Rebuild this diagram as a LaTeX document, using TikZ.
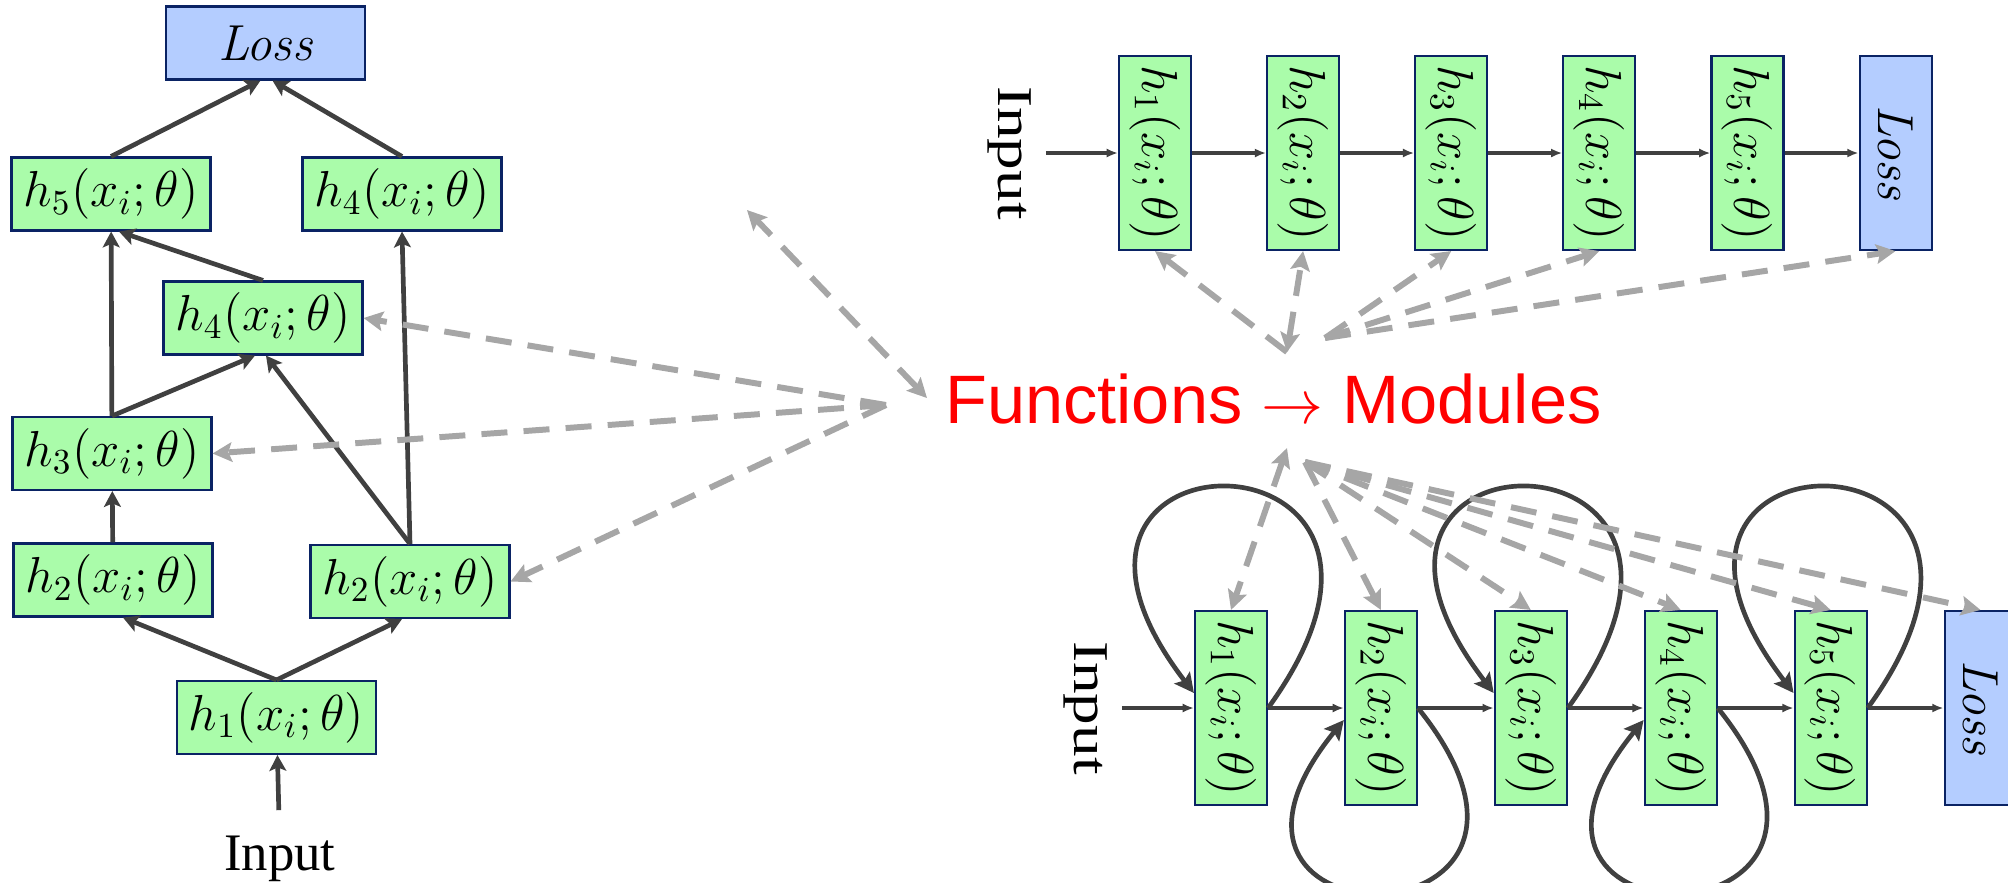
\documentclass[tikz,border=0pt]{standalone}
\usepackage{fontspec}
\usepackage{graphicx}
\usetikzlibrary{arrows.meta, positioning}
\newfontfamily\inputfont{Liberation Serif}
\newfontfamily\redfont{Liberation Sans}
\definecolor{boxgreen}{RGB}{170,252,170}
\definecolor{boxblue}{RGB}{180,205,255}
\definecolor{boxline}{RGB}{10,35,100}
\definecolor{arrgray}{RGB}{64,64,64}
\definecolor{dashgray}{RGB}{166,166,166}
\newcommand{\vlab}[1]{\rotatebox{-90}{#1}}

\begin{document}
\begin{tikzpicture}[
    hbox/.style={rectangle, draw=boxline, fill=boxgreen, line width=0.6pt, minimum width=1.99cm, minimum height=0.73cm, inner sep=1pt, font=\Large},
    vbox/.style={rectangle, draw=boxline, fill=boxgreen, line width=0.6pt, minimum width=0.72cm, minimum height=1.94cm, inner sep=1pt, font=\Large},
    lossbox/.style={fill=boxblue},
    intext/.style={font=\inputfont\fontsize{15}{18}\selectfont, inner sep=4pt},
    redlbl/.style={font=\redfont\fontsize{19.5}{22}\selectfont, red},
    arr/.style={-{Stealth[length=4.5pt, width=4.8pt, inset=1pt]}, line width=1.33pt, arrgray},
    rarr/.style={-{Latex[length=3.2pt, width=2.6pt]}, line width=0.95pt, arrgray},
    larr/.style={-{Stealth[length=5.5pt, width=5.5pt, inset=1pt]}, line width=1.33pt, arrgray},
    darr/.style={-{Stealth[length=5.5pt, width=5.5pt, inset=1pt]}, line width=1.7pt, dashgray, dash pattern=on 7.4pt off 4.6pt},
    ddarr/.style={darr, {Stealth[length=5.5pt, width=5.5pt, inset=1pt]}-{Stealth[length=5.5pt, width=5.5pt, inset=1pt]}}
]
\clip (0,0) rectangle (20.08,-8.82);

% graph of functions
\node[hbox, lossbox] (lossL) at (2.655,-0.43) {\textit{Loss}};
\node[hbox] (h5L) at (1.11,-1.94) {$h_5(x_i;\theta)$};
\node[hbox] (h4La) at (4.02,-1.94) {$h_4(x_i;\theta)$};
\node[hbox] (h4Lb) at (2.63,-3.18) {$h_4(x_i;\theta)$};
\node[hbox] (h3L) at (1.12,-4.535) {$h_3(x_i;\theta)$};
\node[hbox] (h2La) at (1.13,-5.80) {$h_2(x_i;\theta)$};
\node[hbox] (h2Lb) at (4.10,-5.815) {$h_2(x_i;\theta)$};
\node[hbox] (h1L) at (2.765,-7.175) {$h_1(x_i;\theta)$};
\node[intext, inner sep=7pt, anchor=base] (inL) at (2.80,-8.70) {Input};

\draw[arr] (inL) -- (h1L);
\draw[arr] (h1L.north) -- ([xshift=0.1cm]h2La.south);
\draw[arr] (h1L.north) -- ([xshift=-0.08cm]h2Lb.south);
\draw[arr] (h2La) -- (h3L);
\draw[arr] (h3L.north) -- ([xshift=-0.08cm]h4Lb.south);
\draw[arr] (h3L) -- (h5L);
\draw[arr] (h2Lb.north) -- ([xshift=0.03cm]h4Lb.south);
\draw[arr] (h2Lb.north) -- (h4La.south);
\draw[arr] (h4Lb.north) -- ([xshift=0.08cm]h5L.south);
\draw[arr] (h5L.north) -- ([xshift=-0.05cm]lossL.south);
\draw[arr] (h4La.north) -- ([xshift=0.07cm]lossL.south);

% chain of modules
\node[vbox] (h1T) at (11.55,-1.53) {\vlab{$h_1(x_i;\theta)$}};
\node[vbox, right=0.74cm of h1T] (h2T) {\vlab{$h_2(x_i;\theta)$}};
\node[vbox, right=0.74cm of h2T] (h3T) {\vlab{$h_3(x_i;\theta)$}};
\node[vbox, right=0.74cm of h3T] (h4T) {\vlab{$h_4(x_i;\theta)$}};
\node[vbox, right=0.74cm of h4T] (h5T) {\vlab{$h_5(x_i;\theta)$}};
\node[vbox, lossbox, right=0.74cm of h5T] (lossT) {\vlab{\textit{Loss}}};
\node[intext, left=0.72cm of h1T] (inT) {\vlab{\scalebox{1.2}[0.95]{Input}}};

\draw[rarr] (inT) -- (h1T);
\draw[rarr] (h1T) -- (h2T);
\draw[rarr] (h2T) -- (h3T);
\draw[rarr] (h3T) -- (h4T);
\draw[rarr] (h4T) -- (h5T);
\draw[rarr] (h5T) -- (lossT);

% modules with loops
\node[vbox] (h1B) at (12.31,-7.08) {\vlab{$h_1(x_i;\theta)$}};
\node[vbox, right=0.758cm of h1B] (h2B) {\vlab{$h_2(x_i;\theta)$}};
\node[vbox, right=0.758cm of h2B] (h3B) {\vlab{$h_3(x_i;\theta)$}};
\node[vbox, right=0.758cm of h3B] (h4B) {\vlab{$h_4(x_i;\theta)$}};
\node[vbox, right=0.758cm of h4B] (h5B) {\vlab{$h_5(x_i;\theta)$}};
\node[vbox, lossbox, right=0.758cm of h5B] (lossB) {\vlab{\textit{Loss}}};
\node[intext, left=0.72cm of h1B] (inB) {\vlab{\scalebox{1.2}[0.95]{Input}}};

\draw[rarr] (inB) -- (h1B);
\draw[rarr] (h1B) -- (h2B);
\draw[rarr] (h2B) -- (h3B);
\draw[rarr] (h3B) -- (h4B);
\draw[rarr] (h4B) -- (h5B);
\draw[rarr] (h5B) -- (lossB);

\draw[larr] (h1B.east) .. controls +(2.11,2.91) and +(-2.13,2.77) .. ([yshift=0.15cm]h1B.west);
\draw[larr] (h3B.east) .. controls +(2.11,2.91) and +(-2.13,2.77) .. ([yshift=0.15cm]h3B.west);
\draw[larr] (h5B.east) .. controls +(2.11,2.91) and +(-2.13,2.77) .. ([yshift=0.15cm]h5B.west);
\draw[larr] (h2B.east) .. controls +(1.95,-2.42) and +(-1.9,-2.33) .. ([yshift=-0.12cm]h2B.west);
\draw[larr] (h4B.east) .. controls +(1.95,-2.42) and +(-1.9,-2.33) .. ([yshift=-0.12cm]h4B.west);

% functions -> modules
\node[redlbl, anchor=base] (fm) at (12.735,-4.23) {Functions \resizebox{0.62cm}{!}{$\rightarrow$} Modules};

\coordinate (lU) at (7.47,-2.10);
\coordinate (lT) at (9.27,-3.98);
\coordinate (lS) at (8.86,-4.05);
\draw[ddarr] (lT) -- (lU);
\draw[darr] (lS) -- (h4Lb.east);
\draw[darr] (lS) -- (h3L.east);
\draw[darr] (lS) -- (h2Lb.east);

\coordinate (tU) at (12.87,-3.52);
\coordinate (tS) at (13.25,-3.38);
\draw[ddarr] (tU) -- (h2T.south);
\draw[darr] (tU) -- (h1T.south);
\draw[darr] (tS) -- (h3T.south);
\draw[darr] (tS) -- (h4T.south);
\draw[darr] (tS) -- (lossT.south);

\coordinate (bU) at (12.87,-4.48);
\coordinate (bS) at (13.05,-4.62);
\draw[ddarr] (bU) -- (h1B.north);
\draw[darr] (bS) -- (h2B.north);
\draw[darr] (bS) -- (h3B.north);
\draw[darr] (bS) -- (h4B.north);
\draw[darr] (bS) -- (h5B.north);
\draw[darr] (bS) -- (lossB.north);
\end{tikzpicture}
\end{document}
